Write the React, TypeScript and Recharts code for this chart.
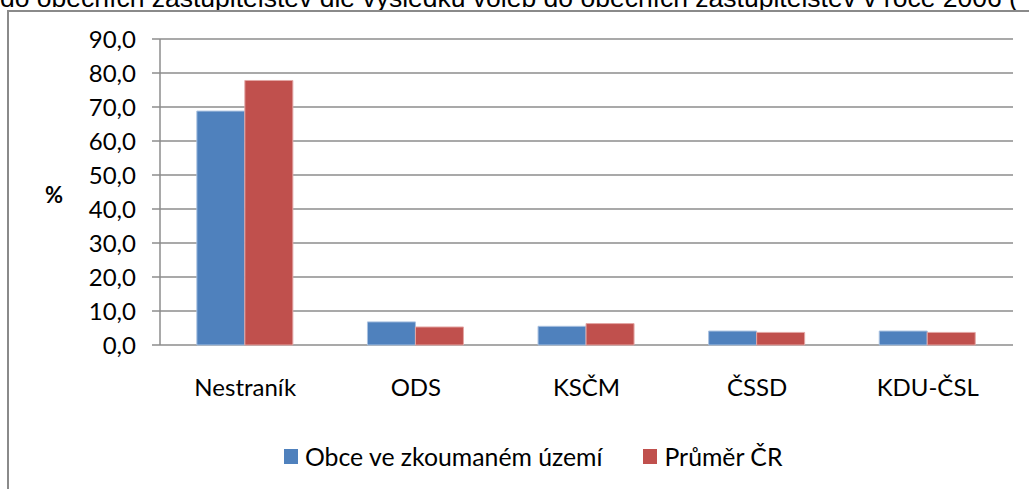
import { Bar, BarChart, CartesianGrid, Legend, XAxis, YAxis } from "recharts";

const categories = ["Nestraník", "ODS", "KSČM", "ČSSD", "KDU-ČSL"];
const obceValues = [68.8, 6.8, 5.5, 4.1, 4.1];
const prumerValues = [77.8, 5.3, 6.3, 3.7, 3.7];
const seriesNames = ["Obce ve zkoumaném území", "Průměr ČR"];
const yTicks = [0, 10, 20, 30, 40, 50, 60, 70, 80, 90];
const edgeTicks = [0, 1, 2, 3, 4, 5];

const BLUE = "#4f81bd";
const RED = "#c0504d";
const GRID = "#8c8c8c";
const FONT = "Lato, 'Noto Sans', sans-serif";

const data = categories.map((name, i) => ({
  name,
  obce: obceValues[i],
  prumer: prumerValues[i],
}));

function LegendContent() {
  const items = [
    { label: seriesNames[0], color: BLUE },
    { label: seriesNames[1], color: RED },
  ];
  return (
    <div style={{ display: "flex", alignItems: "center", fontFamily: FONT, fontSize: 24.8, color: "#000" }}>
      {items.map((item, i) => (
        <div key={item.label} style={{ display: "flex", alignItems: "center", marginLeft: i === 0 ? 0 : 41 }}>
          <span style={{ display: "inline-block", width: 14, height: 15, background: item.color, marginRight: 7 }} />
          <span style={{ lineHeight: "25px" }}>{item.label}</span>
        </div>
      ))}
    </div>
  );
}

export default function App() {
  return (
    <div
      style={{
        position: "fixed",
        left: 0,
        top: 0,
        width: 1029,
        height: 489,
        overflow: "hidden",
        background: "#fff",
      }}
    >
      <div
        style={{
          position: "absolute",
          left: 0,
          top: -15,
          whiteSpace: "nowrap",
          fontFamily: "'Liberation Sans', Arial, sans-serif",
          fontSize: 26.5,
          lineHeight: "26.5px",
          color: "#000",
        }}
      >
        do obecních zastupitelstev dle výsledků voleb do obecních zastupitelstev v roce 2006 (
      </div>
      <div
        style={{
          position: "absolute",
          left: 7,
          top: 10,
          width: 1100,
          height: 600,
          border: "2px solid #8a8a8a",
        }}
      />
      <div style={{ position: "absolute", left: 0, top: 0 }}>
        <BarChart
          width={1029}
          height={489}
          data={data}
          margin={{ top: 39, right: 16, left: 0, bottom: 84 }}
          barCategoryGap="21.6%"
          barGap={0}
        >
          <CartesianGrid
            vertical={false}
            stroke={GRID}
            strokeWidth={1.5}
            xAxisId="cat"
          />
          <XAxis
            xAxisId="edge"
            type="number"
            domain={[0, 5]}
            ticks={edgeTicks}
            tick={false}
            tickSize={8}
            height={0}
            axisLine={{ stroke: GRID, strokeWidth: 1.5 }}
            tickLine={{ stroke: GRID, strokeWidth: 1.5 }}
            allowDataOverflow
          />
          <XAxis
            xAxisId="cat"
            dataKey="name"
            axisLine={false}
            tickLine={false}
            tickSize={0}
            tickMargin={34}
            height={60}
            interval={0}
            tick={{ fill: "#000", fontSize: 24, fontFamily: FONT }}
          />
          <YAxis
            width={160}
            domain={[0, 90]}
            ticks={yTicks}
            interval={0}
            tickSize={8}
            tickMargin={16}
            tickFormatter={(v: number) => v.toFixed(1).replace(".", ",")}
            tick={{ fill: "#000", fontSize: 24, fontFamily: FONT }}
            axisLine={{ stroke: GRID, strokeWidth: 1.5 }}
            tickLine={{ stroke: GRID, strokeWidth: 1.5 }}
            label={{
              value: "%",
              position: "insideLeft",
              offset: 45,
              dy: 3,
              fill: "#000",
              fontSize: 22,
              fontWeight: "bold",
              fontFamily: FONT,
            }}
          />
          <Legend
            verticalAlign="middle"
            align="center"
            content={<LegendContent />}
            wrapperStyle={{ left: 284, top: 444, width: "auto" }}
          />
          <Bar
            xAxisId="cat"
            dataKey="obce"
            name={seriesNames[0]}
            fill={BLUE}
            stroke="#a9c1e0"
            strokeWidth={1}
            isAnimationActive={false}
          />
          <Bar
            xAxisId="cat"
            dataKey="prumer"
            name={seriesNames[1]}
            fill={RED}
            stroke="#e3a6a4"
            strokeWidth={1}
            isAnimationActive={false}
          />
        </BarChart>
      </div>
    </div>
  );
}
